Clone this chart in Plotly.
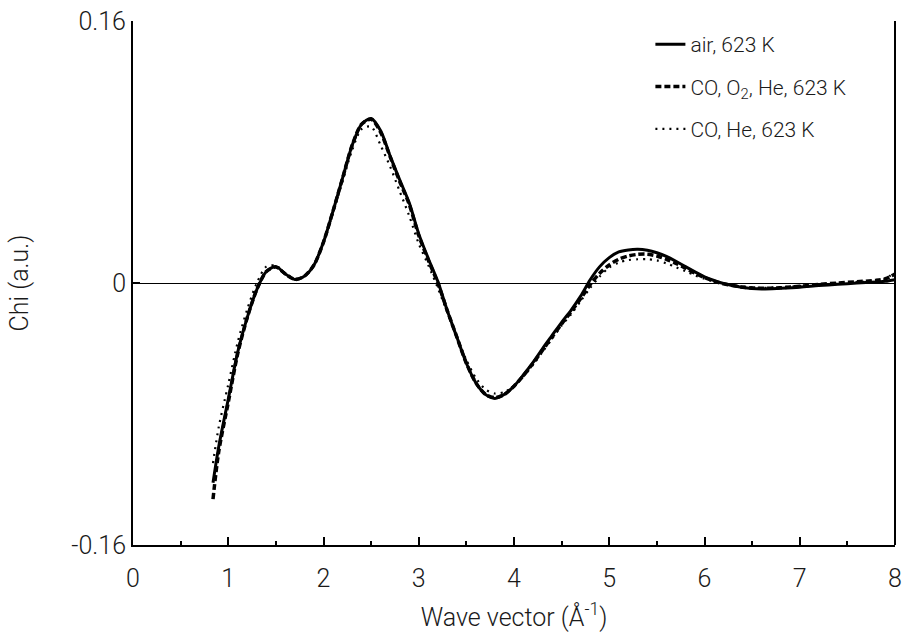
import plotly.graph_objects as go

# Wave vector grid (1/Å)
k = [0.84, 0.9, 1.0, 1.1, 1.2, 1.3, 1.4, 1.5, 1.6, 1.7, 1.8, 1.9,
     2.0, 2.1, 2.2, 2.3, 2.4, 2.5, 2.6, 2.7, 2.8, 2.9,
     3.0, 3.1, 3.2, 3.3, 3.4, 3.5, 3.6, 3.7, 3.8, 3.9,
     4.0, 4.1, 4.2, 4.3, 4.4, 4.5, 4.6, 4.7, 4.8, 4.9,
     5.0, 5.1, 5.2, 5.3, 5.4, 5.5, 5.6, 5.7, 5.8, 5.9,
     6.0, 6.1, 6.2, 6.4, 6.6, 6.8, 7.0, 7.2, 7.4, 7.6, 7.8, 7.9, 8.0]

# EXAFS chi(k) for the three atmospheres
chi_air = [-0.122, -0.100, -0.071, -0.042, -0.021, -0.004, 0.007, 0.010, 0.0055, 0.0022, 0.0042, 0.011,
           0.025, 0.044, 0.064, 0.084, 0.097, 0.1005, 0.093, 0.0775, 0.063, 0.049,
           0.030, 0.015, 0.001, -0.017, -0.033, -0.049, -0.061, -0.068, -0.0705, -0.068,
           -0.063, -0.056, -0.0485, -0.040, -0.032, -0.024, -0.0165, -0.008, 0.002, 0.010,
           0.0155, 0.019, 0.0202, 0.0206, 0.020, 0.0185, 0.0163, 0.0133, 0.010, 0.0068,
           0.0038, 0.0015, -0.0003, -0.0027, -0.0036, -0.0032, -0.0026, -0.0016, -0.0008, 0.0, 0.0006, 0.001, 0.002]

chi_co_o2_he = [-0.132, -0.103, -0.073, -0.043, -0.021, -0.004, 0.007, 0.0098, 0.0055, 0.0022, 0.0042, 0.011,
                0.025, 0.044, 0.064, 0.084, 0.097, 0.100, 0.092, 0.077, 0.062, 0.048,
                0.029, 0.014, 0.0, -0.017, -0.033, -0.049, -0.061, -0.068, -0.070, -0.068,
                -0.063, -0.0565, -0.049, -0.041, -0.033, -0.025, -0.0175, -0.0095, -0.001, 0.006,
                0.011, 0.0145, 0.0165, 0.0175, 0.0176, 0.0165, 0.0145, 0.012, 0.009, 0.006,
                0.0033, 0.0012, -0.0005, -0.0025, -0.0032, -0.0029, -0.002, -0.0009, 0.0, 0.0008, 0.0016, 0.0026, 0.0055]

chi_co_he = [-0.110, -0.088, -0.062, -0.036, -0.016, 0.000, 0.010, 0.0105, 0.006, 0.0025, 0.004, 0.011,
             0.025, 0.043, 0.062, 0.081, 0.094, 0.0955, 0.084, 0.071, 0.056, 0.041,
             0.024, 0.011, -0.003, -0.018, -0.033, -0.047, -0.058, -0.065, -0.0675, -0.0665,
             -0.063, -0.057, -0.050, -0.042, -0.034, -0.026, -0.019, -0.011, -0.003, 0.004,
             0.0095, 0.0125, 0.014, 0.0145, 0.0146, 0.0138, 0.012, 0.0097, 0.0072, 0.0047,
             0.0026, 0.001, -0.0005, -0.0022, -0.003, -0.0026, -0.0018, -0.001, -0.0003, 0.0005, 0.0013, 0.0025, 0.007]

series_names = ["air, 623 K", "CO, O<sub>2</sub>, He, 623 K", "CO, He, 623 K"]

y_tick_vals = [-0.16, 0, 0.16]
y_tick_text = ["-0.16", "0", "0.16"]

FONT = "Roboto, sans-serif"
TXT = "#1a1a1a"

fig = go.Figure()
styles = [
    dict(width=3, dash="solid"),
    dict(width=3.5, dash="6px,3px"),
    dict(width=2.2, dash="2px,5px"),
]
for i, (name, chi, st) in enumerate(zip(series_names, [chi_air, chi_co_o2_he, chi_co_he], styles)):
    fig.add_trace(go.Scatter(
        x=k, y=chi, mode="lines", name=name, legendgroup=f"g{i}",
        line=dict(color="black", width=st["width"], dash=st["dash"], shape="spline", smoothing=0.8),
    ))

fig.update_layout(
    width=907, height=637,
    margin=dict(l=133, r=12, t=21, b=92),
    paper_bgcolor="white", plot_bgcolor="white",
    font=dict(family=FONT, size=25, color=TXT, weight=300),
    showlegend=True,
    legend=dict(
        x=0.679, y=0.994, xanchor="left", yanchor="top",
        font=dict(family=FONT, size=21, color=TXT, weight=300),
        bgcolor="rgba(0,0,0,0)", tracegroupgap=12,
    ),
    xaxis=dict(
        range=[0, 8], dtick=1, tick0=0, automargin=False,
        ticks="inside", ticklen=8, tickwidth=2, tickcolor="black",
        minor=dict(dtick=0.5, ticks="inside", ticklen=4, tickwidth=1.5, tickcolor="black"),
        showline=True, linecolor="black", linewidth=2,
        showgrid=False, zeroline=False, ticklabelstandoff=10,
        title=dict(text="Wave vector (Å<sup>-1</sup>)", font=dict(family=FONT, size=25, weight=300), standoff=16),
        tickfont=dict(family=FONT, size=25, weight=300),
    ),
    yaxis=dict(
        range=[-0.16, 0.16], tickvals=y_tick_vals, ticktext=y_tick_text, automargin=False,
        ticks="inside", ticklen=7, tickwidth=2, tickcolor="black",
        showline=True, linecolor="black", linewidth=2,
        showgrid=False, zeroline=True, zerolinecolor="black", zerolinewidth=1,
        title=dict(text="Chi (a.u.)", font=dict(family=FONT, size=25, weight=300), standoff=36),
        tickfont=dict(family=FONT, size=25, weight=300),
    ),
    shapes=[dict(type="line", xref="paper", yref="paper", x0=1, x1=1, y0=0, y1=1,
                 line=dict(color="black", width=2))],
)

fig.write_html("out.html")
